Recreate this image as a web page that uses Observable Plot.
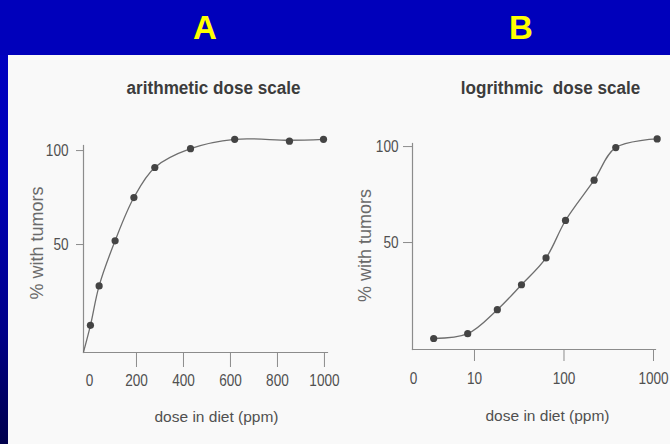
<!DOCTYPE html>
<html>
<head>
<meta charset="utf-8">
<script src="https://cdn.jsdelivr.net/npm/d3@7"></script>
<script src="https://cdn.jsdelivr.net/npm/@observablehq/plot@0.6"></script>
<style>
  html, body { margin: 0; padding: 0; width: 670px; height: 444px; overflow: hidden; }
  body {
    position: relative;
    background: linear-gradient(to bottom, #0000c4 0%, #0000b8 40%, #000088 75%, #00004c 100%);
    font-family: "Liberation Sans", Arial, sans-serif;
  }
  #band { position: absolute; left: 0; top: 0; width: 670px; height: 55px; background: #0000bb; }
  #panel { position: absolute; left: 8px; top: 55px; width: 662px; height: 389px; background: #f9f9f9; }
  .letter {
    position: absolute; top: 11px; transform: translateX(-50%);
    color: #ffff00; font-weight: bold; font-size: 33px; line-height: 33px;
    font-family: "Liberation Sans", Arial, sans-serif;
  }
  .plot { position: absolute; left: 0; top: 0; }
</style>
</head>
<body>
<div id="band"></div>
<div id="panel"></div>
<div class="letter" style="left:205px">A</div>
<div class="letter" style="left:521px">B</div>
<div id="plotA" class="plot"></div>
<div id="plotB" class="plot"></div>
<script>
// ---- data ----
const panelLetters = ["A", "B"];
const titleA = "arithmetic dose scale";
const titleB = "logrithmic\u00a0 dose scale";
const yLabel = "% with tumors";
const xLabel = "dose in diet (ppm)";

// Panel A: arithmetic dose scale
const doseA = [4, 41, 109, 189, 278, 430, 618, 851, 996];
const pctA  = [7, 28, 52, 75, 91, 101, 106, 105, 106];
// drawn curve starts at the axis corner, then passes through the points
const curveDoseA = [-25, 4, 41, 109, 189, 278, 430, 618, 851, 996];
const curvePctA  = [-7, 7, 28, 52, 75, 91, 101, 106, 105.5, 106];
const xTickMarksA = [200, 400, 600, 800, 1000];
const xTickLabelsA = [0, 200, 400, 600, 800, 1000];
const yTicks = [50, 100];

// Panel B: logarithmic dose scale
const doseB = [3.5, 8.4, 18, 33.5, 63, 104, 217, 379, 1099];
const pctB  = [0, 2.5, 15, 28, 42, 61.5, 82.5, 99.5, 104];
const xTicksB = [10, 100, 1000];
const zeroLabelB = ["0"];

const textFont = "'Liberation Sans', Arial, sans-serif";
const axisColor = "#8c8c8c";
const textColor = "#505050";

function panel(opts) {
  return Plot.plot({
    width: 670, height: 444,
    marginLeft: opts.ml, marginRight: opts.mr, marginTop: opts.mt, marginBottom: opts.mb,
    x: opts.x, y: opts.y,
    style: { background: "transparent", overflow: "visible" },
    marks: opts.marks
  });
}

// narrow the glyphs horizontally (the scanned figure uses a condensed face)
function squeezeSel(sel, k) {
  sel.each(function () {
    const t = d3.select(this);
    const tr = t.attr("transform") || "";
    t.attr("transform", `${tr} scale(${k},1)`);
  });
}

function finish(svg) {
  const s = d3.select(svg);
  squeezeSel(s.selectAll('g[aria-label="y-axis tick label"] text'), 0.85);
  squeezeSel(s.selectAll('g[aria-label="x-axis tick label"] text'), 0.85);
  squeezeSel(s.selectAll("text").filter(function () { return this.textContent === "0" && !this.closest('g[aria-label="x-axis tick label"]'); }), 0.85);
  squeezeSel(s.selectAll("text").filter(function () { return this.textContent === titleA || this.textContent === titleB; }), 0.9);
  return svg;
}

// ---- Panel A ----
const plotA = finish(panel({
  ml: 83, mr: 343, mt: 145, mb: 92,
  x: { type: "linear", domain: [-25.5, 1013] },
  y: { type: "linear", domain: [-7.45, 102.7] },
  marks: [
    Plot.frame({ anchor: "left", stroke: axisColor, strokeWidth: 1.2 }),
    Plot.frame({ anchor: "bottom", stroke: axisColor, strokeWidth: 1.2 }),
    Plot.axisY({ ticks: yTicks, tickSize: 7, tickPadding: 8, label: null, stroke: axisColor,
      fontSize: 16, fontFamily: textFont, fill: textColor }),
    Plot.axisX({ ticks: xTickMarksA, tickSize: 15, tickFormat: () => "", label: null, stroke: axisColor }),
    Plot.axisX({ ticks: xTickLabelsA, tickSize: 0, tickPadding: 22, tickFormat: d3.format("d"), label: null,
      fontSize: 16, fontFamily: textFont, fill: textColor }),
    Plot.line(curveDoseA, { x: curveDoseA, y: curvePctA, curve: "catmull-rom", stroke: "#6e6e6e", strokeWidth: 1.3 }),
    Plot.dot(doseA, { x: doseA, y: pctA, r: 3.6, fill: "#444", stroke: "none" }),
    Plot.text([titleA], { frameAnchor: "top", dx: 8, dy: -58, fontSize: 19, fontWeight: "bold",
      fontFamily: textFont, fill: "#3c3c3c", lineAnchor: "middle" }),
    Plot.text([yLabel], { frameAnchor: "left", textAnchor: "middle", rotate: -90, dx: -46, dy: -6, fontSize: 18,
      fontFamily: textFont, fill: "#6a6a6a" }),
    Plot.text([xLabel], { frameAnchor: "bottom", dx: 11, dy: 69, fontSize: 15.5,
      fontFamily: textFont, fill: textColor })
  ]
}));
document.getElementById("plotA").appendChild(plotA);

// ---- Panel B ----
const plotB = finish(panel({
  ml: 412, mr: 15, mt: 143, mb: 95,
  x: { type: "log", domain: [2.03, 1053] },
  y: { type: "linear", domain: [-5.73, 101.6] },
  marks: [
    Plot.frame({ anchor: "left", stroke: axisColor, strokeWidth: 1.2 }),
    Plot.frame({ anchor: "bottom", stroke: axisColor, strokeWidth: 1.2 }),
    Plot.axisY({ ticks: yTicks, tickSize: 9, tickPadding: 5, label: null, stroke: axisColor,
      fontSize: 16, fontFamily: textFont, fill: textColor }),
    Plot.axisX({ ticks: xTicksB, tickSize: 12, tickFormat: () => "", label: null, stroke: axisColor }),
    Plot.axisX({ ticks: xTicksB, tickSize: 0, tickPadding: 23, tickFormat: d3.format("d"), label: null,
      fontSize: 16, fontFamily: textFont, fill: textColor }),
    Plot.text(zeroLabelB, { frameAnchor: "bottom-left", textAnchor: "middle",
      dx: 1, dy: 23, lineAnchor: "top", fontSize: 16, fontFamily: textFont, fill: textColor }),
    Plot.line(doseB, { x: doseB, y: pctB, curve: "catmull-rom", stroke: "#6e6e6e", strokeWidth: 1.3 }),
    Plot.dot(doseB, { x: doseB, y: pctB, r: 3.6, fill: "#444", stroke: "none" }),
    Plot.text([titleB], { frameAnchor: "top", dx: 16.5, dy: -56, fontSize: 19, fontWeight: "bold",
      fontFamily: textFont, fill: "#3c3c3c", lineAnchor: "middle" }),
    Plot.text([yLabel], { frameAnchor: "left", textAnchor: "middle", rotate: -90, dx: -47, dy: -1, fontSize: 18,
      fontFamily: textFont, fill: "#6a6a6a" }),
    Plot.text([xLabel], { frameAnchor: "bottom", dx: 13.5, dy: 71, fontSize: 15.5,
      fontFamily: textFont, fill: textColor })
  ]
}));
document.getElementById("plotB").appendChild(plotB);
</script>
</body>
</html>
